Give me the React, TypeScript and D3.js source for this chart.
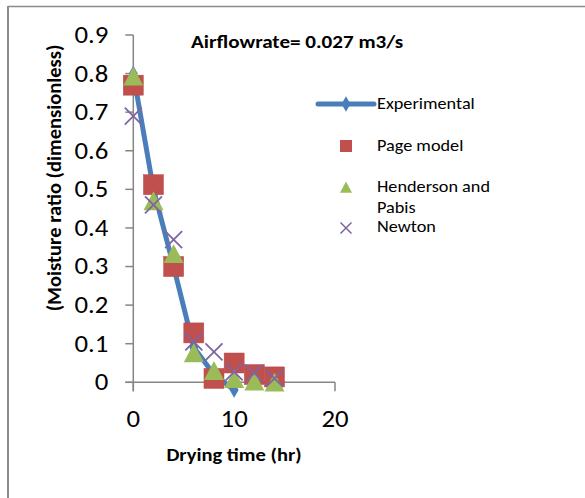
import React from "react";
import * as d3 from "d3";

const hours = [0, 2, 4, 6, 8, 10, 12, 14];
const experimental = [0.8, 0.5, 0.3, 0.09, 0.02, -0.02];
const pageModel = [0.77, 0.512, 0.3, 0.128, 0.01, 0.05, 0.02, 0.014];
const hendersonPabis = [0.79, 0.467, 0.33, 0.073, 0.027, 0.006, 0.0, -0.003];
const newton = [0.69, 0.46, 0.37, 0.105, 0.079, 0.027, 0.024, 0.01];
const xTicks = [0, 10, 20];
const yTicks = [0, 0.1, 0.2, 0.3, 0.4, 0.5, 0.6, 0.7, 0.8, 0.9];

const W = 585;
const H = 498;
const FONT = "Carlito, Calibri, 'Open Sans', 'Liberation Sans', sans-serif";
const BLUE = "#4a7ebb";
const RED = "#c0504d";
const GREEN = "#9bbb59";
const PURPLE = "#8064a2";
const AXIS = "#868686";
const SX = 1.14;

function T(props: {
  x: number;
  y: number;
  size: number;
  anchor?: string;
  bold?: boolean;
  rotate?: boolean;
  children: React.ReactNode;
}) {
  const { x, y, size, anchor = "start", bold, rotate, children } = props;
  const tf = rotate
    ? `translate(${x},${y}) rotate(-90)`
    : `translate(${x},${y}) scale(${SX},1)`;
  return (
    <text
      transform={tf}
      textAnchor={anchor}
      dominantBaseline="central"
      fontSize={size}
      fontWeight={bold ? "bold" : "normal"}
      fill="#000"
    >
      {children}
    </text>
  );
}

export default function App() {
  const x = d3.scaleLinear().domain([0, 20]).range([133.3, 335]);
  const y = d3.scaleLinear().domain([0, 0.9]).range([382.3, 35]);
  const line = d3
    .line<number>()
    .x((_, i) => x(hours[i]))
    .y((d) => y(d));
  const diamond = d3.symbol(d3.symbolDiamond, 70)()!;
  const sq = 20;
  const tri = (cx: number, cy: number, s = 20) => {
    const h = s * 0.9;
    return `M${cx},${cy - h * 0.6}L${cx + s / 2},${cy + h * 0.45}L${cx - s / 2},${cy + h * 0.45}Z`;
  };
  const cross = (cx: number, cy: number, r = 8.5) =>
    `M${cx - r},${cy - r}L${cx + r},${cy + r}M${cx - r},${cy + r}L${cx + r},${cy - r}`;

  const lx = 346;
  const tx = 377;
  return (
    <svg
      width={W}
      height={H}
      style={{ position: "absolute", left: 0, top: 0 }}
      fontFamily={FONT}
    >
      <rect x={0} y={0} width={W} height={H} fill="#fff" />
      <line x1={8} y1={6.5} x2={W} y2={6.5} stroke="#8c8c8c" strokeWidth={1.5} />
      <line x1={8} y1={6} x2={8} y2={H} stroke="#8c8c8c" strokeWidth={2} />

      {/* axes */}
      <line x1={x(0)} y1={y(0.9)} x2={x(0)} y2={y(0) + 9} stroke={AXIS} strokeWidth={1.5} />
      <line x1={x(0) - 8} y1={y(0)} x2={x(20)} y2={y(0)} stroke={AXIS} strokeWidth={1.5} />
      {yTicks.map((t) => (
        <g key={"y" + t}>
          <line x1={x(0) - 8} x2={x(0)} y1={y(t)} y2={y(t)} stroke={AXIS} strokeWidth={1.5} />
          <T x={x(0) - 25} y={y(t)} size={23.5} anchor="end">
            {t === 0 ? "0" : d3.format(".1f")(t)}
          </T>
        </g>
      ))}
      {xTicks.map((t) => (
        <g key={"x" + t}>
          <line x1={x(t)} x2={x(t)} y1={y(0)} y2={y(0) + 9} stroke={AXIS} strokeWidth={1.5} />
          <T x={x(t)} y={419} size={23.5} anchor="middle">
            {t}
          </T>
        </g>
      ))}

      {/* series */}
      <path d={line(experimental)!} fill="none" stroke={BLUE} strokeWidth={5} strokeLinejoin="round" />
      {experimental.map((v, i) => (
        <path key={"d" + i} d={diamond} transform={`translate(${x(hours[i])},${y(v)})`} fill={BLUE} />
      ))}
      {pageModel.map((v, i) => (
        <rect
          key={"p" + i}
          x={x(hours[i]) - sq / 2}
          y={y(v) - sq / 2}
          width={sq}
          height={sq}
          fill={RED}
          stroke="#b84a47"
          strokeWidth={0.5}
        />
      ))}
      {hendersonPabis.map((v, i) => (
        <path key={"h" + i} d={tri(x(hours[i]), y(v))} fill={GREEN} />
      ))}
      {newton.map((v, i) => (
        <path key={"n" + i} d={cross(x(hours[i]), y(v))} stroke={PURPLE} strokeWidth={1.8} fill="none" />
      ))}

      {/* titles */}
      <T x={191} y={41} size={18.5} bold>
        Airflowrate= 0.027 m3/s
      </T>
      <T x={234} y={455} size={18} bold anchor="middle">
        Drying time (hr)
      </T>
      <T x={54} y={178} size={20.5} bold anchor="middle" rotate>
        (Moisture ratio (dimensionless)
      </T>

      {/* legend */}
      <line x1={318} x2={374} y1={104} y2={104} stroke={BLUE} strokeWidth={5} strokeLinecap="round" />
      <path d={diamond} transform={`translate(${lx},104)`} fill={BLUE} />
      <T x={tx} y={104} size={16}>Experimental</T>
      <rect x={lx - 6} y={146 - 6} width={12} height={12} fill={RED} />
      <T x={tx} y={146} size={16}>Page model</T>
      <path d={tri(lx, 188, 12)} fill={GREEN} />
      <T x={tx} y={187} size={16}>Henderson and</T>
      <T x={tx} y={208} size={16}>Pabis</T>
      <path d={cross(lx, 228, 5.5)} stroke={PURPLE} strokeWidth={1.5} fill="none" />
      <T x={tx} y={227} size={16}>Newton</T>
    </svg>
  );
}
